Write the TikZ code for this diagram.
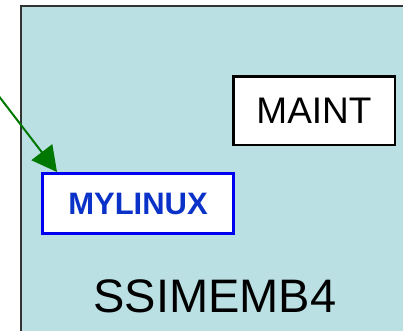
\documentclass[tikz,border=0pt]{standalone}
\usepackage{fontspec}
\setmainfont{Liberation Sans}
\usetikzlibrary{arrows.meta}
\definecolor{hostfill}{RGB}{186,224,227}
\definecolor{lparblue}{RGB}{0,0,240}
\definecolor{lpartext}{RGB}{10,50,200}
\definecolor{linkgreen}{RGB}{0,120,0}
\tikzset{
  lparbox/.style={draw=lparblue, line width=3pt, fill=white, inner sep=0pt,
    minimum width=191pt, minimum height=60pt, text=lpartext,
    font=\bfseries\fontsize{31}{31}\selectfont},
  guestbox/.style={draw=black, line width=2.5pt, fill=white, inner sep=0pt,
    minimum width=161.5pt, minimum height=68.5pt,
    font=\fontsize{37}{37}\selectfont},
  hostlabel/.style={anchor=base, inner sep=0pt, font=\fontsize{47}{47}\selectfont},
  link/.style={draw=linkgreen, line width=2pt,
    -{Triangle[length=25pt,width=26pt]}}
}
\begin{document}
\begin{tikzpicture}[x=1pt,y=-1pt]
  \useasboundingbox (0,0) rectangle (403,330);
  \clip (0,0) rectangle (403,330);
  % host frame
  \draw[fill=hostfill, draw=black!80, line width=1.5pt] (21,6) rectangle (420,345);
  % guests
  \node[guestbox] (maint) at (314,110.5) {MAINT};
  \node[lparbox] (mylinux) at (138,203.5) {MYLINUX};
  \node[hostlabel] (host) at (215,312) {SSIMEMB4};
  % incoming link
  \coordinate (src) at (-2,95);
  \draw[link] (src) -- ([xshift=16pt]mylinux.north west);
\end{tikzpicture}
\end{document}
